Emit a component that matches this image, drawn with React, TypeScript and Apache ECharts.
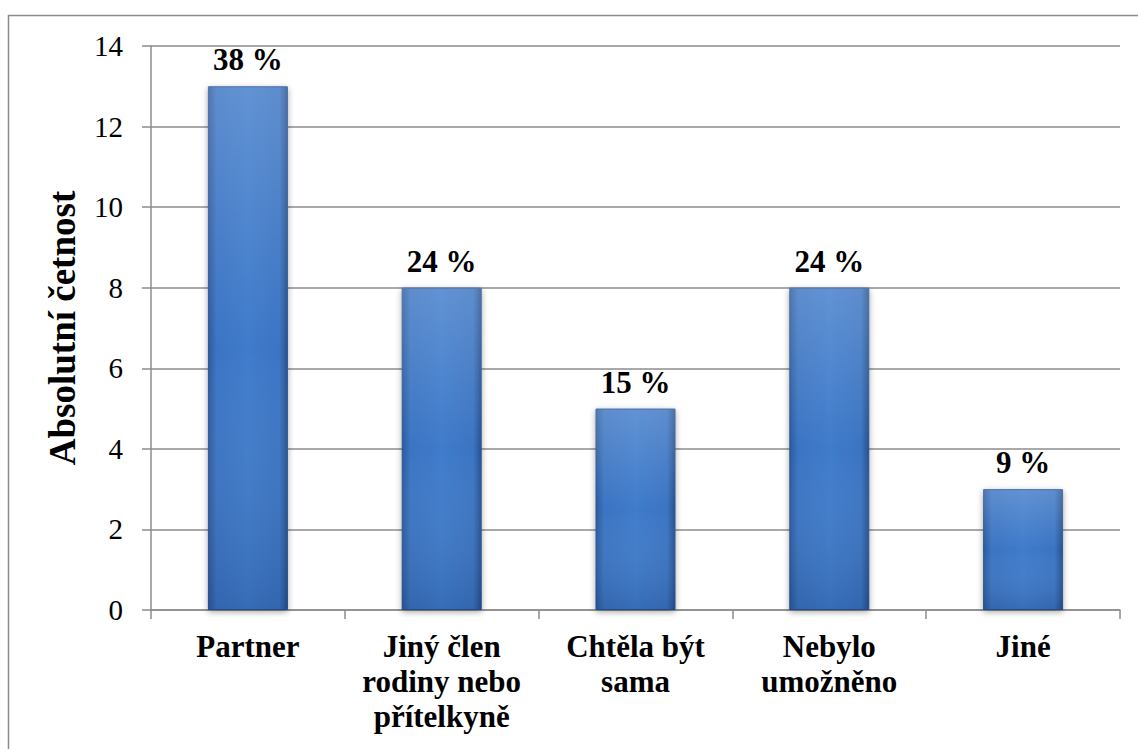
import React, { useEffect, useRef } from "react";
import * as echarts from "echarts";

const categories = [
  "Partner",
  "Jiný člen\nrodiny nebo\npřítelkyně",
  "Chtěla být\nsama",
  "Nebylo\numožněno",
  "Jiné",
];
const counts = [13, 8, 5, 8, 3];
const percentLabels = ["38 %", "24 %", "15 %", "24 %", "9 %"];
const yTicks = { min: 0, max: 14, interval: 2 };

const FONT = "Liberation Serif";

export default function App() {
  const ref = useRef<HTMLDivElement>(null);
  useEffect(() => {
    document.body.style.margin = "0";
    const chart = echarts.init(ref.current!, null, { renderer: "svg" });
    chart.setOption({
      animation: false,
      backgroundColor: "#ffffff",
      graphic: [
        {
          type: "polyline",
          shape: { points: [[8.5, 760], [8.5, 15.5], [1140, 15.5]] },
          style: { stroke: "#8c8c8c", lineWidth: 1.5, fill: null },
          silent: true,
        },
      ],
      grid: { left: 151, right: 18, top: 46, bottom: 139, containLabel: false },
      xAxis: {
        type: "category",
        data: categories,
        axisLine: { show: true, lineStyle: { color: "#8c8c8c", width: 1.5 } },
        axisTick: { show: true, alignWithLabel: false, length: 9, lineStyle: { color: "#8c8c8c", width: 1.5 } },
        axisLabel: {
          interval: 0,
          margin: 19,
          color: "#000",
          fontFamily: FONT,
          fontWeight: "bold",
          fontSize: 31,
          lineHeight: 35,
          align: "center",
        },
      },
      yAxis: {
        type: "value",
        min: yTicks.min,
        max: yTicks.max,
        interval: yTicks.interval,
        name: "Absolutní četnost",
        nameLocation: "middle",
        nameRotate: 90,
        nameGap: 70,
        nameTextStyle: { color: "#000", fontFamily: FONT, fontWeight: "bold", fontSize: 37 },
        axisLine: { show: true, lineStyle: { color: "#8c8c8c", width: 1.5 } },
        axisTick: { show: true, length: 9, lineStyle: { color: "#8c8c8c", width: 1.5 } },
        splitLine: { show: true, lineStyle: { color: "#8c8c8c", width: 1.5 } },
        axisLabel: { margin: 28, color: "#000", fontFamily: FONT, fontSize: 29 },
      },
      series: [
        {
          type: "bar",
          data: counts,
          barWidth: 80,
          z: 2,
          itemStyle: {
            color: new echarts.graphic.LinearGradient(0, 0, 1, 0, [
              { offset: 0, color: "#2c5a9c" },
              { offset: 0.1, color: "#3a74c2" },
              { offset: 0.5, color: "#3f7bcb" },
              { offset: 0.9, color: "#3a74c2" },
              { offset: 1, color: "#28528f" },
            ]),
            borderColor: "#2b5592",
            borderWidth: 1,
            shadowColor: "rgba(0,0,0,0.35)",
            shadowBlur: 6,
            shadowOffsetY: 2,
          },
        },
        {
          type: "bar",
          data: counts,
          barWidth: 80,
          barGap: "-100%",
          z: 3,
          silent: true,
          itemStyle: {
            color: new echarts.graphic.LinearGradient(0, 0, 0, 1, [
              { offset: 0, color: "rgba(255,255,255,0.18)" },
              { offset: 0.5, color: "rgba(255,255,255,0.0)" },
              { offset: 1, color: "rgba(0,20,60,0.15)" },
            ]),
          },
          label: {
            show: true,
            position: "top",
            distance: 11,
            formatter: (p: any) => percentLabels[p.dataIndex],
            color: "#000",
            fontFamily: FONT,
            fontWeight: "bold",
            fontSize: 31,
          },
        },
      ],
    });
    return () => chart.dispose();
  }, []);
  return <div ref={ref} style={{ width: 1138, height: 749 }} />;
}
